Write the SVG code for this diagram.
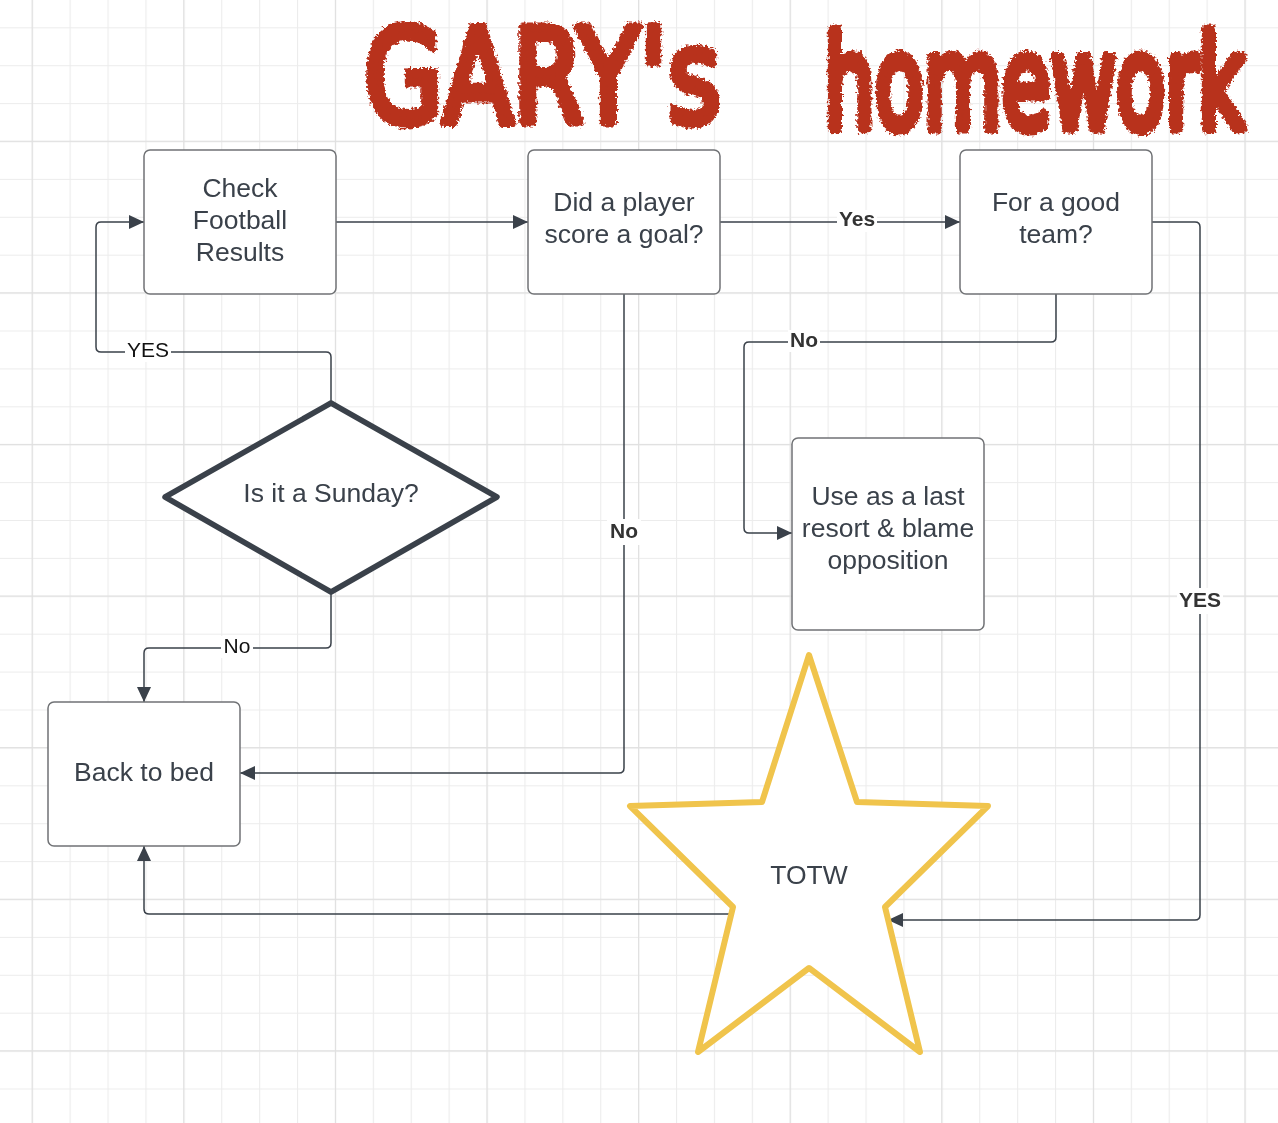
<svg xmlns="http://www.w3.org/2000/svg" width="1278" height="1123" viewBox="0 0 1278 1123">
<style>
.box{fill:#ffffff;stroke:#707275;stroke-width:1.5}
.t{font-family:"Liberation Sans",Arial,sans-serif;font-size:26.5px;fill:#3a414a;text-anchor:middle}
.c{fill:none;stroke:#3a414a;stroke-width:1.5;stroke-linejoin:round}
.lb{font-family:"Liberation Sans",Arial,sans-serif;font-size:21px;font-weight:bold;fill:#333333;text-anchor:middle}
.lr{font-family:"Liberation Sans",Arial,sans-serif;font-size:21px;fill:#111111;text-anchor:middle}
.bg{fill:#ffffff}
.title{font-family:"DejaVu Sans",sans-serif;fill:#b8321f;stroke:#b8321f;stroke-width:7;stroke-linejoin:round;stroke-linecap:round}
</style>
<defs>
<pattern id="minor" patternUnits="userSpaceOnUse" x="31.7" y="27.3" width="37.9" height="37.9">
<path d="M0 0.5H37.9M0.5 0V37.9" stroke="#ececec" stroke-width="1.2" fill="none"/>
</pattern>
<pattern id="major" patternUnits="userSpaceOnUse" x="31.7" y="-10.9" width="151.6" height="151.6">
<path d="M0 0.5H151.6M0.5 0V151.6" stroke="#e0e0e0" stroke-width="1.3" fill="none"/>
</pattern>
<marker id="arr" markerUnits="userSpaceOnUse" markerWidth="16" markerHeight="14" refX="15" refY="7" orient="auto">
<path d="M0 0L15 7L0 14Z" fill="#3a414a"/>
</marker>
<filter id="rough" filterUnits="userSpaceOnUse" x="330" y="0" width="948" height="160">
<feTurbulence type="fractalNoise" baseFrequency="0.35" numOctaves="2" seed="3" result="n"/>
<feDisplacementMap in="SourceGraphic" in2="n" scale="7" xChannelSelector="R" yChannelSelector="G"/>
</filter>
</defs>
<rect width="1278" height="1123" fill="#ffffff"/>
<rect width="1278" height="1123" fill="url(#minor)"/>
<rect width="1278" height="1123" fill="url(#major)"/>

<g id="title" filter="url(#rough)">
<text class="title" transform="translate(364,122) scale(1,1.28)" x="0" y="0" font-size="102">GARY's</text>
<text class="title" transform="translate(824,128) scale(1,1.6)" x="0" y="0" font-size="80">homework</text>
</g>

<g id="connectors">
<path class="c" d="M336 222H528" marker-end="url(#arr)"/>
<path class="c" d="M720 222H960" marker-end="url(#arr)"/>
<path class="c" d="M1152 222H1195Q1200 222 1200 227V915Q1200 920 1195 920H888" marker-end="url(#arr)"/>
<path class="c" d="M1056 294V337Q1056 342 1051 342H749Q744 342 744 347V528Q744 533 749 533H792" marker-end="url(#arr)"/>
<path class="c" d="M624 294V768Q624 773 619 773H240" marker-end="url(#arr)"/>
<path class="c" d="M331 403V357Q331 352 326 352H101Q96 352 96 347V227Q96 222 101 222H144" marker-end="url(#arr)"/>
<path class="c" d="M331 592V643Q331 648 326 648H149Q144 648 144 653V702" marker-end="url(#arr)"/>
<path class="c" d="M732 914H149Q144 914 144 909V846" marker-end="url(#arr)"/>
<rect class="bg" x="837" y="210" width="40" height="22"/>
<text class="lb" x="857" y="226">Yes</text>
<rect class="bg" x="788" y="330" width="32" height="22"/>
<text class="lb" x="804" y="347">No</text>
<rect class="bg" x="607" y="519" width="34" height="26"/>
<text class="lb" x="624" y="538">No</text>
<rect class="bg" x="1177" y="588" width="46" height="26"/>
<text class="lb" x="1200" y="607">YES</text>
<rect class="bg" x="125" y="340" width="46" height="22"/>
<text class="lr" x="148" y="357">YES</text>
<rect class="bg" x="221" y="636" width="32" height="22"/>
<text class="lr" x="237" y="653">No</text>
</g>

<g id="check">
<rect class="box" x="144" y="150" width="192" height="144" rx="6"/>
<text class="t" x="240" y="197">Check</text>
<text class="t" x="240" y="229">Football</text>
<text class="t" x="240" y="261">Results</text>
</g>
<g id="goal">
<rect class="box" x="528" y="150" width="192" height="144" rx="6"/>
<text class="t" x="624" y="211">Did a player</text>
<text class="t" x="624" y="243">score a goal?</text>
</g>
<g id="team">
<rect class="box" x="960" y="150" width="192" height="144" rx="6"/>
<text class="t" x="1056" y="211">For a good</text>
<text class="t" x="1056" y="243">team?</text>
</g>
<g id="resort">
<rect class="box" x="792" y="438" width="192" height="192" rx="6"/>
<text class="t" x="888" y="505">Use as a last</text>
<text class="t" x="888" y="537">resort &amp; blame</text>
<text class="t" x="888" y="569">opposition</text>
</g>
<g id="bed">
<rect class="box" x="48" y="702" width="192" height="144" rx="6"/>
<text class="t" x="144" y="781">Back to bed</text>
</g>
<g id="sunday">
<path d="M331 403L497 497L331 592L165 497Z" fill="#ffffff" stroke="#3a414a" stroke-width="5.5" stroke-linejoin="round"/>
<text class="t" x="331" y="502">Is it a Sunday?</text>
</g>
<g id="totw">
<path d="M809 655L857 802L988 806L885 907L920 1052L809 968L698 1052L733 907L630 806L762 802Z" fill="#ffffff" stroke="#f0c44c" stroke-width="6" stroke-linejoin="round"/>
<text class="t" x="809" y="884">TOTW</text>
</g>
</svg>
